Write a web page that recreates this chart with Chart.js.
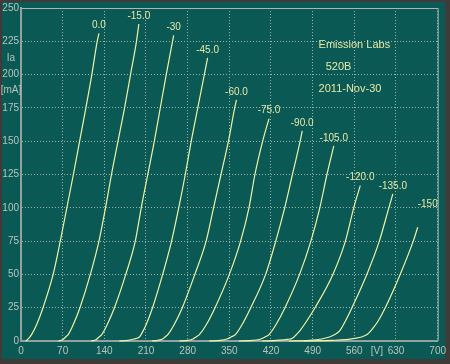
<!DOCTYPE html>
<html lang="en">
<head>
<meta charset="UTF-8">
<title>520B plate curves</title>
<script src="https://cdn.jsdelivr.net/npm/chart.js"></script>
<style>
    body {
        margin: 0;
        padding: 0;
        background: #3f3b38;
    }
    .wrap {
        width: 450px;
        height: 364px;
    }
</style>
</head>
<body>
<div class="wrap">
    <canvas id="tubeChart" width="450" height="364"></canvas>
</div>
<script>
    // grid bias of each curve (label drawn at the end of the curve)
    const gridLabels = ["0.0", "-15.0", "-30", "-45.0", "-60.0", "-75.0", "-90.0", "-105.0", "-120.0", "-135.0", "-150"];

    // plate voltage [V] along each curve
    const plateVolts = [
        [8, 13, 18, 26, 37, 54, 66, 77, 88, 98.5, 109, 119, 128, 131],
        [63, 70, 75, 79.5, 87.5, 99, 116.5, 131, 142, 152, 163, 174, 184, 194, 198],
        [118, 126, 131, 136, 144.5, 157, 176, 192, 202, 213, 224, 234, 244, 256.5],
        [165, 180, 190, 199, 202, 210, 221, 238, 253, 265, 276, 286, 297, 308, 313.5],
        [220, 230, 238, 242, 247, 257, 271, 292, 311, 323.5, 336, 348.5, 359, 362],
        [266, 280, 289, 294, 300, 311, 326, 350, 369, 383, 393, 406, 416.7],
        [316, 335, 346, 353, 360.5, 371, 386, 411, 428, 443, 456, 469, 472.4],
        [366, 390, 403, 410, 417, 428, 443.5, 468, 487, 502, 514, 525.5],
        [405, 430, 448, 456, 463, 469, 480, 494, 524, 545, 559, 570],
        [450, 485, 505, 518, 528, 536, 545, 556, 581, 602, 618, 624.7],
        [475, 522, 545, 560, 572, 582, 592, 600, 612, 637, 659, 666.5]
    ];

    // plate current [mA] matching the voltages above
    const plateCurrent = [
        [0, 2, 5, 12, 25, 50, 75, 100, 125, 150, 175, 200, 225, 231],
        [0, 1, 3, 5, 12, 25, 50, 75, 100, 125, 150, 175, 200, 225, 238],
        [0, 1, 3, 5, 12, 25, 50, 75, 100, 125, 150, 175, 200, 229.5],
        [0, 0.5, 1.5, 3, 5, 12, 25, 50, 75, 100, 125, 150, 175, 200, 212.5],
        [0, 0.5, 1.5, 3, 5, 12, 25, 50, 75, 100, 125, 150, 175, 181],
        [0, 0.5, 1.5, 3, 5, 12, 25, 50, 75, 100, 125, 150, 167],
        [0, 0.5, 1.5, 3, 5, 12, 25, 50, 75, 100, 125, 150, 157.7],
        [0, 0.5, 1.5, 3, 5, 12, 25, 50, 75, 100, 125, 146.5],
        [0, 0.5, 1.2, 2, 5, 8, 15, 25, 50, 75, 100, 116.6],
        [0, 0.5, 1.5, 3, 5, 8, 15, 25, 50, 75, 100, 110.4],
        [0, 0.5, 1, 2, 3, 5, 10, 15, 25, 50, 75, 85.4]
    ];

    const noteLines = ["Emission Labs", "520B", "2011-Nov-30"];

    const teal = "#0b5954";
    const curveColor = "#eef2a6";
    const textColor = "#e6e8a6";
    const tickColor = "#b8c4bc";
    const gridColor = "#9cb0ac";
    const axisColor = "#92a39f";

    const datasets = gridLabels.map((label, i) => ({
        label: label,
        data: plateVolts[i].map((v, j) => ({ x: v, y: plateCurrent[i][j] })),
        showLine: true,
        borderColor: curveColor,
        borderWidth: 1.2,
        pointRadius: 0,
        cubicInterpolationMode: "monotone",
        clip: false
    }));

    const backdrop = {
        id: "backdrop",
        beforeDraw(chart) {
            const { ctx, width, height } = chart;
            ctx.save();
            ctx.fillStyle = "#3f3b38";
            ctx.fillRect(0, 0, width, height);
            ctx.fillStyle = teal;
            ctx.fillRect(2, 2, 443, 357);
            ctx.restore();
        },
        afterDraw(chart) {
            const { ctx, chartArea: a } = chart;
            ctx.save();
            ctx.strokeStyle = "#a8b8b4";
            ctx.lineWidth = 1;
            ctx.beginPath();
            ctx.moveTo(a.left, a.top + 0.5);
            ctx.lineTo(a.right + 0.5, a.top + 0.5);
            ctx.lineTo(a.right + 0.5, a.bottom);
            ctx.stroke();
            ctx.restore();
        }
    };

    const textLayer = {
        id: "textLayer",
        afterDatasetsDraw(chart) {
            const { ctx } = chart;
            const xs = chart.scales.x;
            const ys = chart.scales.y;
            ctx.save();

            // curve labels at the top end of each curve
            ctx.font = "10px 'Liberation Sans', Arial, sans-serif";
            ctx.fillStyle = textColor;
            ctx.textBaseline = "middle";
            chart.data.datasets.forEach((ds, i) => {
                const pts = chart.getDatasetMeta(i).data;
                const end = pts[pts.length - 1];
                if (ds.label === "-150") {
                    ctx.textAlign = "left";
                    ctx.fillText(ds.label, end.x, end.y - 23);
                } else {
                    ctx.textAlign = "center";
                    ctx.fillText(ds.label, end.x, end.y - 8);
                }
            });

            // tube note
            ctx.font = "11px 'Liberation Sans', Arial, sans-serif";
            ctx.textAlign = "left";
            ctx.fillText(noteLines[0], xs.getPixelForValue(500), ys.getPixelForValue(222));
            ctx.fillText(noteLines[1], xs.getPixelForValue(512), ys.getPixelForValue(205.5));
            ctx.fillText(noteLines[2], xs.getPixelForValue(500), ys.getPixelForValue(189));

            // axis units
            ctx.font = "10px 'Liberation Sans', Arial, sans-serif";
            ctx.fillStyle = tickColor;
            ctx.textAlign = "center";
            ctx.fillText("Ia", 11, ys.getPixelForValue(212.5));
            ctx.fillText("[mA]", 11, ys.getPixelForValue(188.5));
            ctx.fillText("[V]", xs.getPixelForValue(598), 351);
            ctx.restore();
        }
    };

    const tickFont = { family: "'Liberation Sans', Arial, sans-serif", size: 10 };

    const config = {
        type: "scatter",
        data: { datasets: datasets },
        options: {
            responsive: false,
            animation: false,
            layout: {
                padding: { top: 5, right: 10, left: 0, bottom: 0 }
            },
            plugins: {
                legend: { display: false },
                tooltip: { enabled: false }
            },
            scales: {
                x: {
                    type: "linear",
                    min: 0,
                    max: 700,
                    afterFit: (s) => { s.height = 23; },
                    ticks: {
                        stepSize: 70,
                        color: tickColor,
                        font: tickFont,
                        padding: 4,
                        maxRotation: 0,
                        autoSkip: false
                    },
                    grid: { color: gridColor, lineWidth: 1, drawTicks: false },
                    border: { color: axisColor, width: 2, dash: [1, 2] }
                },
                y: {
                    type: "linear",
                    min: 0,
                    max: 250,
                    afterFit: (s) => { s.width = 21; },
                    ticks: {
                        stepSize: 25,
                        color: tickColor,
                        font: tickFont,
                        padding: 2
                    },
                    grid: { color: gridColor, lineWidth: 1, drawTicks: false },
                    border: { color: axisColor, width: 2, dash: [1, 2] }
                }
            }
        },
        plugins: [backdrop, textLayer]
    };

    const chart = new Chart(document.getElementById("tubeChart").getContext("2d"), config);
</script>
</body>
</html>
